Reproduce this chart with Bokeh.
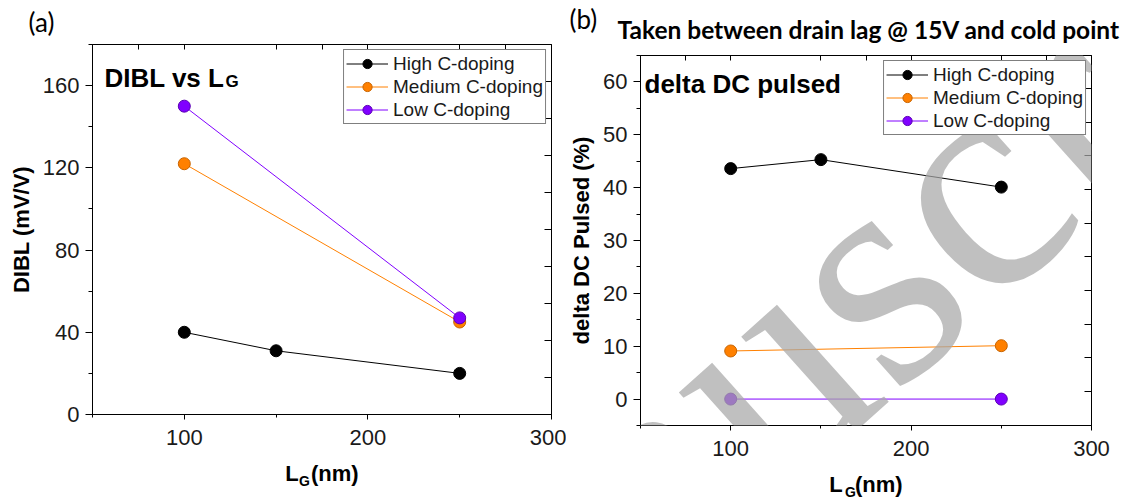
from bokeh.plotting import figure
from bokeh.layouts import row, column
from bokeh.models import (Label, Legend, LegendItem, LinearAxis, SingleIntervalTicker,
                          FixedTicker, Range1d, CustomJSTickFormatter, Title)
from bokeh.embed import file_html
from bokeh.resources import INLINE

# ---------------- data ----------------
series_names = ["High C-doping", "Medium C-doping", "Low C-doping"]
series_colors = ["#000000", "#ff8000", "#8000ff"]
series_edges = ["#000000", "#c86400", "#5a00b4"]

dibl_lg = [[100, 150, 250], [100, 250], [100, 250]]
dibl_val = [[40, 31, 20], [122, 45], [150, 47]]

pulsed_lg = [[100, 150, 250], [100, 250], [100, 250]]
pulsed_val = [[43.6, 45.3, 40.1], [9.1, 10.1], [0.0, 0.0]]

SANS = "Liberation Sans"
TICK_FS = "22px"
NBSP = "\u00a0"


def blank_axis(ticks, tick_in):
    return LinearAxis(ticker=FixedTicker(ticks=ticks, minor_ticks=[]),
                      formatter=CustomJSTickFormatter(code="return ''"),
                      major_label_text_font_size="1px",
                      major_tick_out=0, major_tick_in=tick_in, minor_tick_out=0,
                      minor_tick_in=0, major_label_standoff=0, axis_line_color="black",
                      major_tick_line_color="black")


def style_axes(p, x_int, y_int, right_ticks, top_ticks):
    for ax in p.xaxis + p.yaxis:
        ax.axis_line_color = "black"
        ax.axis_line_width = 1
        ax.major_tick_line_color = "black"
        ax.minor_tick_line_color = "black"
        ax.major_label_text_font = SANS
        ax.major_label_text_font_size = TICK_FS
        ax.major_label_text_color = "#1a1a1a"
        ax.major_tick_in = 0
        ax.minor_tick_in = 0
        ax.axis_label_text_font = SANS
        ax.axis_label_text_font_style = "bold"
        ax.axis_label_text_font_size = "22px"
        ax.axis_label_text_color = "black"
    p.xaxis[0].ticker = SingleIntervalTicker(interval=x_int, num_minor_ticks=2)
    p.yaxis[0].ticker = SingleIntervalTicker(interval=y_int, num_minor_ticks=2)
    p.xaxis[0].major_tick_out = 5
    p.xaxis[0].minor_tick_out = 3
    p.xaxis[0].major_label_standoff = 10
    p.xaxis[0].axis_label = "L" + NBSP + NBSP + "(nm)"
    p.xaxis[0].axis_label_standoff = 13
    p.yaxis[0].major_tick_out = 7
    p.yaxis[0].minor_tick_out = 4
    p.yaxis[0].major_label_standoff = 6
    p.yaxis[0].axis_label_standoff = 6
    p.add_layout(blank_axis(right_ticks, 7), "right")
    p.add_layout(blank_axis(top_ticks, 5), "above")


def add_series(p, xs_list, ys_list):
    items = []
    for name, col, edge, xs, ys in zip(series_names, series_colors, series_edges, xs_list, ys_list):
        ln = p.line(xs, ys, line_color=col, line_width=1)
        sc = p.scatter(xs, ys, size=12, fill_color=col, line_color=edge, line_width=1)
        items.append(LegendItem(label=name, renderers=[ln, sc]))
    return items


def make_legend(items):
    return Legend(items=items, location="top_right", border_line_color="black",
                  border_line_width=1, background_fill_color="white", background_fill_alpha=1.0,
                  label_text_font=SANS, label_text_font_size="19px", label_text_color="#1a1a1a",
                  glyph_width=42, glyph_height=23, label_height=23, spacing=0,
                  padding=2, margin=5, label_standoff=5)


def clabel(p, x, y, text, font=SANS, size="22px", style="bold", **kw):
    p.add_layout(Label(x=x, y=y, x_units="canvas", y_units="canvas", text=text,
                       text_font=font, text_font_style=style, text_font_size=size,
                       text_align=kw.pop("align", "left"),
                       text_baseline=kw.pop("baseline", "alphabetic"),
                       text_color=kw.pop("color", "black"), **kw))


def sub_g(p, offset):
    # subscript "G" of the x-axis label L_G (nm)
    p.add_layout(Title(text="G", align="left", offset=offset, vertical_align="top",
                       standoff=-32, text_font=SANS, text_font_style="bold",
                       text_font_size="14px", text_color="black"), "below")


# ---------------- panel (a) ----------------
pa = figure(width=566, height=500, output_backend="svg", toolbar_location=None,
            x_range=Range1d(50, 300), y_range=Range1d(0, 180),
            min_border_left=92, min_border_right=15, min_border_top=44, min_border_bottom=86,
            background_fill_color="white", border_fill_color="white",
            outline_line_color="black", outline_line_width=1)
pa.xgrid.visible = False
pa.ygrid.visible = False
pa.yaxis.axis_label = "DIBL (mV/V)"
style_axes(pa, 100, 40, [18, 36, 54, 72, 90, 108, 126, 144, 162],
           [75, 100, 150, 175, 200, 250, 275])
items_a = add_series(pa, dibl_lg, dibl_val)
pa.add_layout(make_legend(items_a))

pa.add_layout(Title(text="(a)", align="left", offset=28 - 92, vertical_align="top",
                    standoff=10, text_font="Lato", text_font_style="normal",
                    text_font_size="26px", text_color="black"), "above")
clabel(pa, 104, 77, "DIBL vs L", size="26px")
clabel(pa, 225, 81, "G", size="17px")
sub_g(pa, 229.5 - 23)

# ---------------- panel (b) ----------------
pb = figure(width=566, height=500, output_backend="svg", toolbar_location=None,
            x_range=Range1d(50, 300), y_range=Range1d(-5, 65),
            min_border_left=70, min_border_right=41, min_border_top=54, min_border_bottom=75,
            background_fill_color="white", border_fill_color="white",
            outline_line_color="black", outline_line_width=1)
pb.xgrid.visible = False
pb.ygrid.visible = False
pb.yaxis.axis_label = "delta DC Pulsed (%)"
style_axes(pb, 100, 10, [1.4, 7.8, 14.2, 20.5, 26.9, 33.3, 39.7, 46.0, 52.4, 58.8],
           [75, 100, 150, 175, 200, 250, 275])
items_b = add_series(pb, pulsed_lg, pulsed_val)
pb.add_layout(make_legend(items_b))

pb.add_layout(Title(text="Taken between drain lag @ 15V and cold point", align="left",
                    offset=613 - 636, vertical_align="bottom", standoff=24,
                    text_font="Lato", text_font_style="bold", text_font_size="24.5px",
                    text_color="black"), "above")
pb.add_layout(Title(text="(b)", align="left", offset=565 - 636, vertical_align="bottom",
                    standoff=-69, text_font="Lato", text_font_style="normal",
                    text_font_size="26px", text_color="black"), "above")
clabel(pb, 644 - 566, 83, "delta DC pulsed", size="26px")
sub_g(pb, 227.5 - 23)

# watermark of the manuscript stamp (grey serif letters, drawn over the plot area)
clabel(pb, 264 - 566, 815, "Manuscript", font="Liberation Serif", size="320px",
       style="normal", color="#a8a8a8", angle=0.73, text_alpha=0.72, level="overlay")

layout = row(column(pa), column(pb))
open("out.html", "w").write(file_html(layout, INLINE))
